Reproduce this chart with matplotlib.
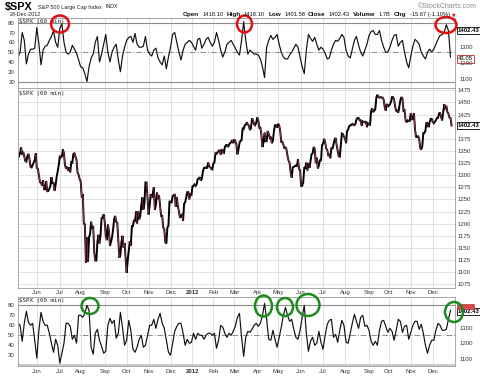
import numpy as np
import matplotlib
matplotlib.use("Agg")
import matplotlib.pyplot as plt
from matplotlib.patches import Ellipse, Rectangle
from matplotlib.collections import LineCollection

W, H = 480, 377

# ---------------- data ----------------
month_labels = ["Jun", "Jul", "Aug", "Sep", "Oct", "Nov", "Dec", "2012", "Feb", "Mar",
                "Apr", "May", "Jun", "Jul", "Aug", "Sep", "Oct", "Nov", "Dec"]
# trading sessions per month: May-2011 (from May 5) ... Dec-2012 (to Dec 28)
sessions_per_month = [18, 22, 20, 23, 21, 21, 21, 21, 20, 20, 22, 20, 22, 21, 21, 23, 19, 21, 21, 19]

close_2011 = [
    # May (from 5th)
    1335, 1340, 1346, 1357, 1342, 1348, 1338, 1329, 1328, 1340, 1344, 1333, 1317, 1316, 1321, 1326, 1331, 1345,
    # Jun
    1315, 1313, 1300, 1286, 1284, 1279, 1289, 1271, 1271, 1288, 1266, 1268, 1272, 1278, 1296, 1284, 1284, 1268, 1280, 1297, 1308, 1321,
    # Jul
    1340, 1337, 1339, 1353, 1344, 1320, 1314, 1317, 1309, 1316, 1306, 1327, 1326, 1344, 1345, 1338, 1332, 1305, 1301, 1292,
    # Aug
    1287, 1254, 1261, 1200, 1199, 1119, 1172, 1121, 1172, 1179, 1204, 1192, 1193, 1140, 1124, 1124, 1162, 1177, 1159, 1177, 1211, 1213, 1219,
    # Sep
    1204, 1174, 1166, 1198, 1185, 1154, 1162, 1172, 1188, 1209, 1216, 1204, 1202, 1166, 1130, 1136, 1162, 1175, 1151, 1160, 1131,
    # Oct
    1099, 1124, 1144, 1164, 1155, 1195, 1195, 1208, 1204, 1225, 1200, 1225, 1209, 1216, 1238, 1254, 1229, 1242, 1285, 1285, 1253,
    # Nov
    1219, 1237, 1261, 1253, 1262, 1275, 1229, 1239, 1264, 1251, 1258, 1237, 1216, 1216, 1193, 1188, 1162, 1159, 1192, 1196, 1247,
    # Dec
    1244, 1244, 1257, 1258, 1261, 1235, 1255, 1236, 1226, 1212, 1216, 1220, 1206, 1241, 1244, 1254, 1265, 1265, 1250, 1263, 1258,
]
close_2012 = [
    # Jan
    1277, 1278, 1281, 1278, 1281, 1292, 1293, 1296, 1289, 1293, 1308, 1315, 1315, 1316, 1314, 1326, 1319, 1316, 1313, 1312,
    # Feb
    1324, 1326, 1345, 1344, 1347, 1350, 1352, 1342, 1352, 1351, 1344, 1358, 1362, 1362, 1358, 1363, 1366, 1368, 1372, 1366,
    # Mar
    1374, 1370, 1364, 1343, 1353, 1366, 1371, 1372, 1396, 1395, 1403, 1404, 1409, 1405, 1402, 1393, 1397, 1417, 1413, 1405, 1403, 1408,
    # Apr
    1419, 1413, 1398, 1398, 1383, 1358, 1368, 1388, 1370, 1370, 1391, 1385, 1377, 1379, 1366, 1371, 1391, 1403, 1403, 1398,
    # May
    1406, 1403, 1391, 1369, 1369, 1363, 1355, 1358, 1353, 1339, 1330, 1325, 1305, 1295, 1316, 1317, 1319, 1320, 1318, 1333, 1313, 1310,
    # Jun
    1278, 1278, 1285, 1315, 1315, 1326, 1309, 1325, 1315, 1329, 1343, 1345, 1358, 1355, 1325, 1336, 1314, 1320, 1332, 1329, 1362,
    # Jul
    1365, 1375, 1368, 1355, 1352, 1341, 1342, 1335, 1357, 1354, 1364, 1373, 1377, 1362, 1351, 1339, 1338, 1361, 1386, 1385, 1379,
    # Aug
    1376, 1366, 1391, 1394, 1401, 1403, 1403, 1406, 1404, 1403, 1406, 1415, 1418, 1418, 1413, 1413, 1402, 1411, 1410, 1409, 1411, 1399, 1407,
    # Sep
    1405, 1404, 1432, 1438, 1430, 1433, 1436, 1460, 1466, 1461, 1460, 1461, 1460, 1460, 1456, 1441, 1433, 1447, 1441,
    # Oct
    1444, 1446, 1451, 1461, 1461, 1456, 1441, 1433, 1433, 1429, 1441, 1455, 1461, 1458, 1433, 1434, 1413, 1409, 1413, 1412, 1412,
    # Nov
    1428, 1414, 1418, 1428, 1395, 1378, 1380, 1380, 1375, 1356, 1353, 1360, 1387, 1387, 1392, 1409, 1406, 1399, 1409, 1416, 1416,
    # Dec
    1410, 1407, 1410, 1413, 1418, 1418, 1427, 1429, 1420, 1413, 1430, 1446, 1436, 1443, 1430, 1427, 1419, 1418, 1402.43,
]

# oscillator (top panel), one reading every 2 sessions
osc_top = [
    45, 50, 70, 62, 38, 48, 53, 53, 54, 75, 58, 37, 52, 56, 57, 62, 66, 72, 60, 55,
    74, 79, 60, 50, 48, 50, 57, 53, 49, 42, 35, 34, 28, 20, 35, 44, 48, 60, 66, 40,
    48, 58, 68, 50, 40, 50, 55, 58, 42, 30, 46, 55, 62, 65, 66, 60, 69, 58, 55, 55,
    56, 66, 52, 48, 46, 52, 54, 44, 40, 37, 46, 33, 45, 55, 68, 70, 60, 50, 42, 52,
    58, 60, 62, 60, 56, 52, 63, 64, 54, 58, 63, 65, 60, 56, 60, 70, 62, 52, 45, 50,
    58, 60, 62, 58, 54, 50, 47, 62, 81, 62, 48, 52, 50, 48, 48, 47, 43, 35, 24, 55,
    62, 67, 63, 65, 68, 58, 50, 45, 43, 43, 47, 50, 54, 58, 55, 45, 35, 28, 52, 68,
    64, 61, 65, 58, 52, 55, 53, 49, 43, 44, 52, 58, 62, 61, 64, 68, 65, 52, 46, 44,
    53, 62, 66, 57, 50, 46, 52, 58, 67, 71, 72, 68, 68, 72, 62, 55, 50, 50, 55, 62,
    67, 68, 56, 60, 62, 50, 40, 34, 46, 56, 63, 61, 58, 50, 46, 43, 50, 53, 50, 53,
    58, 63, 67, 68, 70, 78, 72, 45,
]
# oscillator (bottom panel), one reading every 2 sessions
osc_bot = [
    62, 60, 44, 62, 74, 63, 60, 62, 45, 27, 55, 73, 64, 60, 60, 52, 42, 33, 46, 40,
    22, 32, 42, 62, 62, 59, 46, 50, 42, 70, 70, 68, 72, 80, 75, 38, 31, 52, 56, 45,
    39, 32, 34, 60, 67, 62, 65, 47, 52, 73, 58, 40, 45, 65, 55, 36, 33, 38, 46, 50,
    38, 40, 50, 60, 60, 66, 57, 66, 72, 62, 57, 45, 33, 30, 42, 54, 59, 62, 62, 52,
    40, 46, 42, 43, 52, 46, 52, 50, 50, 46, 50, 52, 52, 50, 52, 37, 45, 60, 58, 52,
    48, 52, 50, 54, 59, 68, 72, 48, 29, 48, 54, 53, 56, 60, 62, 59, 62, 70, 82, 66,
    46, 45, 55, 46, 38, 48, 58, 70, 78, 70, 64, 66, 56, 48, 46, 55, 68, 80, 52, 34,
    44, 48, 40, 42, 54, 43, 36, 50, 61, 65, 66, 48, 51, 43, 55, 65, 60, 43, 42, 52,
    62, 71, 64, 57, 68, 70, 59, 60, 55, 44, 40, 44, 40, 55, 64, 65, 59, 53, 57, 54,
    45, 55, 66, 64, 53, 59, 60, 46, 53, 60, 64, 64, 56, 61, 52, 40, 32, 40, 45, 45,
    55, 62, 60, 55, 55, 56, 66, 75,
]

top_right_ticks = [1100, 1200, 1300]
bot_right_ticks = [1100, 1200, 1300]
main_ticks = [1075, 1100, 1125, 1150, 1175, 1200, 1225, 1250, 1275, 1300, 1325, 1350, 1375, 1425, 1450, 1475]
osc_ticks_top = [20, 30, 40, 50, 60, 70, 80]
osc_ticks_bot = [30, 40, 50, 60, 70, 80]
last_close = 1402.43
last_osc_top = 43.05
header_items = [("Open", "1418.10"), ("High", "1418.10"), ("Low", "1401.58"), ("Close", "1402.43"),
                ("Volume", "1.7B"), ("Chg", "-15.67 (-1.10%)")]

# ---------------- layout helpers ----------------
close = np.array(close_2011 + close_2012, dtype=float)
sess = np.arange(len(close))
osc_x = np.arange(len(osc_top)) * 2
month_pos = np.cumsum(sessions_per_month)[:-1]

fig = plt.figure(figsize=(W / 100, H / 100), dpi=100)
fig.patch.set_facecolor("white")


def rect(l, t, r, b):
    return [l / W, 1 - b / H, (r - l) / W, (b - t) / H]


LFT, RGT = 17.7, 455.0
XLIM = (-0.3, 418.3)
GRID = "#dcdcdc"
SPINE = "#9a9a9a"
FONT = "Liberation Sans"
TS = 4.3


def style_axes(ax):
    for s in ax.spines.values():
        s.set_color(SPINE)
        s.set_linewidth(0.6)
    ax.set_xlim(*XLIM)
    ax.set_xticks(month_pos)
    ax.tick_params(axis="both", length=0, labelsize=TS, colors="#333333", pad=2)
    ax.grid(axis="x", color=GRID, lw=0.6)
    ax.set_axisbelow(True)


# top oscillator panel
ax1 = fig.add_axes(rect(LFT, 18, RGT, 87.5))
style_axes(ax1)
ax1.set_ylim(13.9, 84.8)
ax1.set_yticks(osc_ticks_top)
ax1.set_xticklabels([])
ax1.axhline(80, color="#8c8c8c", lw=0.8)
ax1.axhline(20, color="#8c8c8c", lw=0.8)
ax1.axhline(50, color="#8c8c8c", lw=0.7, dashes=(6, 2, 1, 2))
ax1.plot(osc_x, osc_top, color="#111111", lw=0.85)
ax1r = ax1.twinx()
ax1r.set_ylim(1048.8, 1483)
ax1r.set_yticks(top_right_ticks)
ax1r.tick_params(length=0, labelsize=TS, colors="#333333", pad=3)
for s in ax1r.spines.values():
    s.set_visible(False)

# main price panel
ax2 = fig.add_axes(rect(LFT, 87.5, RGT, 287.7))
style_axes(ax2)
ax2.set_ylim(1068, 1480.8)
ax2.set_yticks(main_ticks)
ax2.yaxis.tick_right()
ax2.grid(axis="y", color=GRID, lw=0.6)
ax2.set_xticklabels(month_labels)
ax2.plot(sess, close, color="black", lw=1.4, solid_joinstyle="miter")
pts = np.column_stack([sess, close])
segs = np.stack([pts[:-1], pts[1:]], axis=1)
down = close[1:] < close[:-1]
ax2.add_collection(LineCollection(segs[down], colors="#b03a5b", linewidths=0.55))

# bottom oscillator panel
ax3 = fig.add_axes(rect(LFT, 297, RGT, 366))
style_axes(ax3)
ax3.set_ylim(19.2, 88.4)
ax3.set_yticks(osc_ticks_bot)
ax3.set_xticklabels(month_labels)
ax3.axhline(80, color="#8c8c8c", lw=0.8)
ax3.axhline(20, color="#c8c8c8", lw=2.0)
ax3.axhline(50, color="#8c8c8c", lw=0.7, dashes=(6, 2, 1, 2))
ax3.plot(osc_x, osc_bot, color="#111111", lw=0.85)
ax3r = ax3.twinx()
ax3r.set_ylim(1057.6, 1494)
ax3r.set_yticks(bot_right_ticks)
ax3r.tick_params(length=0, labelsize=TS, colors="#333333", pad=3)
for s in ax3r.spines.values():
    s.set_visible(False)

for ax in (ax1, ax2, ax3):
    for lab in ax.get_xticklabels() + ax.get_yticklabels():
        lab.set_fontfamily(FONT)
        if lab.get_text() == "2012":
            lab.set_fontweight("bold")
for ax in (ax1r, ax3r):
    for lab in ax.get_yticklabels():
        lab.set_fontfamily(FONT)

# panel labels
for ax in (ax1, ax2, ax3):
    ax.text(0.004, 0.985, "$SPX (60 min)", transform=ax.transAxes, ha="left", va="top",
            fontsize=4.2, family="DejaVu Sans Mono", color="#222222")

box = dict(boxstyle="square,pad=0.18", fc="white", ec="black", lw=0.6)
ax2.text(1.006, last_close, f"{last_close:.2f}", transform=ax2.get_yaxis_transform(),
         ha="left", va="center", fontsize=TS, family=FONT, fontweight="bold", bbox=box)
ax1r.text(1.006, last_close, f"{last_close:.2f}", transform=ax1r.get_yaxis_transform(),
          ha="left", va="center", fontsize=TS, family=FONT, fontweight="bold", bbox=box)
ax1.text(1.006, last_osc_top, f"{last_osc_top:.2f}", transform=ax1.get_yaxis_transform(),
         ha="left", va="center", fontsize=TS, family=FONT,
         bbox=dict(boxstyle="square,pad=0.18", fc="white", ec="#cc2222", lw=0.6))
ax3r.text(1.006, last_close, f"{last_close:.2f}", transform=ax3r.get_yaxis_transform(),
          ha="left", va="center", fontsize=TS, family=FONT, fontweight="bold", bbox=box, zorder=6)

# ---------------- overlay: header and annotation circles ----------------
ov = fig.add_axes([0, 0, 1, 1], zorder=10)
ov.set_xlim(0, W)
ov.set_ylim(H, 0)
ov.axis("off")
ov.patch.set_alpha(0)

# red value tag partly hidden behind the bottom-right price tag
ov.add_patch(Rectangle((457, 304), 17, 5, fc="#d04a4a", ec="#c03030", lw=0.5, zorder=1))

renderer = fig.canvas.get_renderer()


def put_seq(items, x0, y, gap):
    """Place text pieces one after another; items = (text, size, weight, color)."""
    x = x0
    for txt, size, weight, color in items:
        t = ov.text(x, y, txt, fontsize=size, fontweight=weight, family=FONT, color=color,
                    va="baseline", ha="left")
        bb = t.get_window_extent(renderer)
        x += bb.width * W / (fig.bbox.width) + gap
    return x


put_seq([("$SPX", 7.8, "bold", "black")], 4.5, 9.8, 0)
put_seq([("S&P 500 Large Cap Index", 4.0, "normal", "#222222"),
         ("INDX", 3.8, "normal", "#222222")], 38.5, 8.5, 3)
put_seq([("28-Dec-2012", 3.9, "normal", "#222222")], 9.5, 16.3, 0)
ov.text(477, 8.5, "\u00a9StockCharts.com", fontsize=5.0, family=FONT, color="#8a8a8a",
        va="baseline", ha="right")

# header line 2 scaled to span x=183..450
pieces = []
for lab, val in header_items:
    pieces.append((lab, True))
    pieces.append((val, False))
base = 4.5
tmp = []
for txt, bold in pieces:
    t = ov.text(0, -50, txt, fontsize=base if bold else base * 0.9,
                fontweight="bold" if bold else "normal", family=FONT)
    tmp.append(t.get_window_extent(renderer).width)
    t.remove()
gap = 3.2
scale = (450 - 183 - gap * (len(pieces) - 1)) / sum(tmp)
items = [(txt, (base if bold else base * 0.9) * scale, "bold" if bold else "normal", "#111111")
         for txt, bold in pieces]
xe = put_seq(items, 183, 16, gap)
ov.text(xe - 0.5, 16, "\u25bc", fontsize=3.4, color="#cc2222", family="DejaVu Sans",
        va="baseline", ha="left")

for cx, cy, w, h in [(60, 24, 18, 17), (244.5, 24, 15, 17), (446, 25, 21, 16)]:
    ov.add_patch(Ellipse((cx, cy), w, h, fill=False, ec="#e01010", lw=1.8))
for cx, cy, w, h in [(90, 306, 17, 16), (263.5, 306, 17, 21), (285, 307, 16, 18),
                     (308, 305, 23, 22), (454, 312, 18, 20)]:
    ov.add_patch(Ellipse((cx, cy), w, h, fill=False, ec="#1e8a1e", lw=1.8))

fig.savefig("out.png", dpi=100, facecolor="white")
